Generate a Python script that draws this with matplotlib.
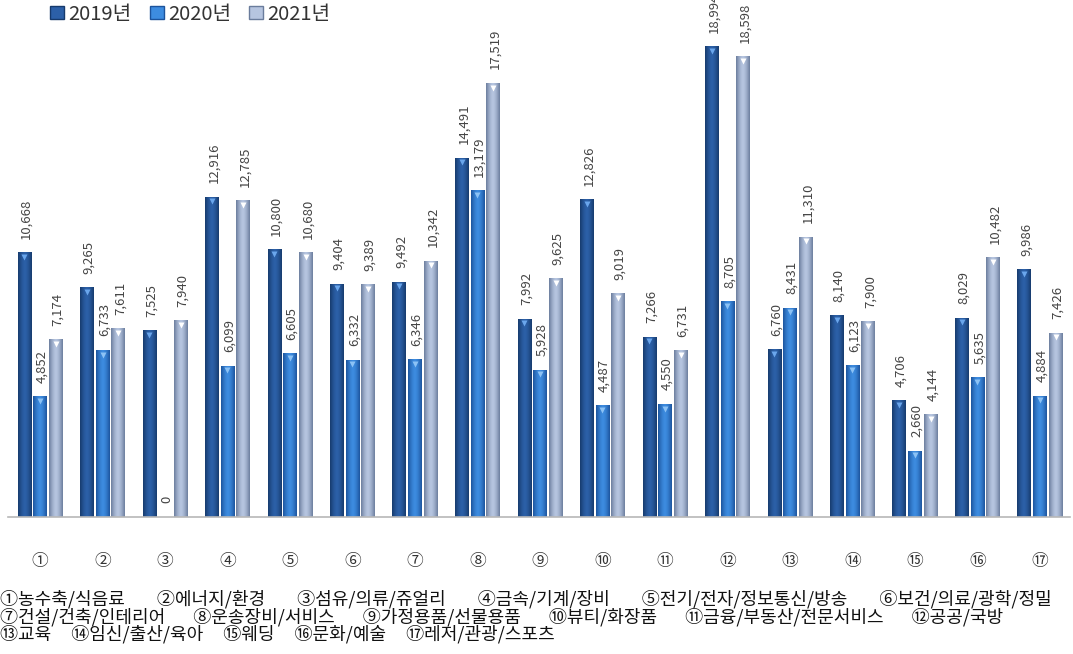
import matplotlib
matplotlib.use("Agg")
import matplotlib.pyplot as plt
import matplotlib.transforms as mtransforms
from matplotlib.colors import LinearSegmentedColormap
from matplotlib.patches import Patch
import numpy as np

plt.rcParams['font.family'] = ['Noto Sans CJK KR', 'DejaVu Sans']

# 업종별 건수 (2019~2021)
categories = ['①', '②', '③', '④', '⑤', '⑥', '⑦', '⑧', '⑨', '⑩', '⑪', '⑫', '⑬', '⑭', '⑮', '⑯', '⑰']
years = ['2019년', '2020년', '2021년']
v2019 = [10668, 9265, 7525, 12916, 10800, 9404, 9492, 14491, 7992, 12826, 7266, 18994, 6760, 8140, 4706, 8029, 9986]
v2020 = [4852, 6733, 0, 6099, 6605, 6332, 6346, 13179, 5928, 4487, 4550, 8705, 8431, 6123, 2660, 5635, 4884]
v2021 = [7174, 7611, 7940, 12785, 10680, 9389, 10342, 17519, 9625, 9019, 6731, 18598, 11310, 7900, 4144, 10482, 7426]
footnote = [
    ['①농수축/식음료', '②에너지/환경', '③섬유/의류/쥬얼리', '④금속/기계/장비', '⑤전기/전자/정보통신/방송', '⑥보건/의료/광학/정밀'],
    ['⑦건설/건축/인테리어', '⑧운송장비/서비스', '⑨가정용품/선물용품', '⑩뷰티/화장품', '⑪금융/부동산/전문서비스', '⑫공공/국방'],
    ['⑬교육', '⑭임신/출산/육아', '⑮웨딩', '⑯문화/예술', '⑰레저/관광/스포츠'],
]
# right end (px) of each footnote line
line_ends = [1052, 1005, 555]

# (edge, centre, top marker) colours per series
styles = [
    ('#163a6c', '#2c60a8', '#6aa6ec'),
    ('#1c539c', '#3d8ce0', '#8cc2f5'),
    ('#6a7c9c', '#b6c5e0', '#ffffff'),
]

W, H = 1073, 654
fig = plt.figure(figsize=(W / 100, H / 100), dpi=100)
ax = fig.add_axes([8 / W, 1 - 517 / H, (1070 - 8) / W, 517 / H])

x = np.arange(len(categories))
width = 0.22
offsets = [-0.25, 0.0, 0.25]
grad = np.abs(np.linspace(-1, 1, 64)) ** 1.6
grad = grad[np.newaxis, :]

down = mtransforms.ScaledTranslation(0, -3 / 72, fig.dpi_scale_trans)
up = mtransforms.ScaledTranslation(0, 10 / 72, fig.dpi_scale_trans)

for series, off, (edge, centre, tip) in zip([v2019, v2020, v2021], offsets, styles):
    cmap = LinearSegmentedColormap.from_list('bar', [centre, edge])
    for xi, v in zip(x, series):
        x0 = xi + off - width / 2
        if v > 0:
            ax.imshow(grad, cmap=cmap, extent=[x0, x0 + width, 0, v],
                      aspect='auto', interpolation='bicubic', zorder=2)
            ax.plot(xi + off, v, marker='v', ms=5, color=tip, mec='none',
                    transform=ax.transData + down, zorder=3)
        ax.text(xi + off + 0.03, v, f'{v:,}', rotation=90, ha='center', va='bottom',
                fontsize=9.5, color='#444444', transform=ax.transData + up,
                clip_on=False, zorder=4)

ax.set_xlim(-0.512, 16.48)
ax.set_ylim(0, 20887)
ax.set_xticks(x)
ax.set_xticklabels(categories, fontsize=12, color='#333333')
ax.tick_params(axis='x', length=0, pad=26)
ax.set_yticks([])
for s in ['top', 'right', 'left']:
    ax.spines[s].set_visible(False)
ax.spines['bottom'].set_color('#b8b8b8')
ax.spines['bottom'].set_linewidth(1.2)

handles = [Patch(facecolor=c[1], edgecolor=c[0]) for c in styles]
fig.legend(handles, years, loc='upper left', bbox_to_anchor=(0.03, 1.022), ncol=3,
           frameon=False, fontsize=14.5, handlelength=0.7, handleheight=0.65,
           handletextpad=0.2, columnspacing=0.9, labelcolor='#333333')

# footnote: pad each line with spaces so it reaches its right end
fsize = 13
renderer = fig.canvas.get_renderer()

def text_width(s):
    t = fig.text(0, 0, s, fontsize=fsize)
    w = t.get_window_extent(renderer).width
    t.remove()
    return w

space_w = (text_width('a' + ' ' * 10 + 'a') - text_width('aa')) / 10
lines = []
for items, end in zip(footnote, line_ends):
    used = sum(text_width(s) for s in items)
    n = max(1, int(round((end - used) / (len(items) - 1) / space_w)))
    lines.append((' ' * n).join(items))

fig.text(0.0, 1 - 590 / H, '\n'.join(lines), fontsize=fsize, color='#111111',
         ha='left', va='top', linespacing=0.93)

fig.savefig('out.png', dpi=100)
